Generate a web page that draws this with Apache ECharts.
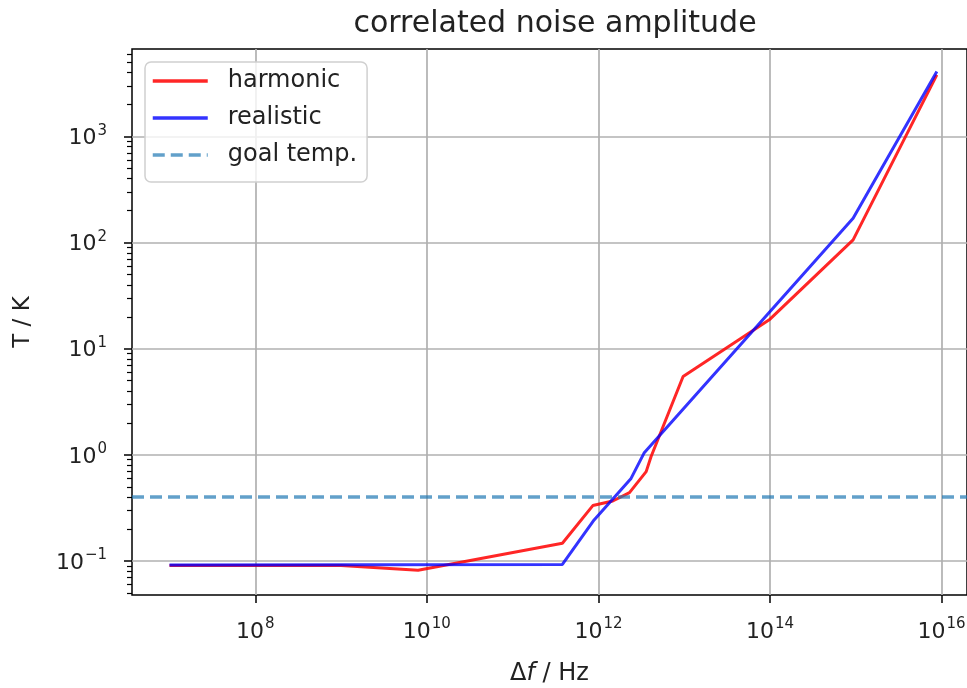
<!DOCTYPE html>
<html>
<head>
<meta charset="utf-8">
<script src="https://cdn.jsdelivr.net/npm/echarts@6/dist/echarts.min.js"></script>
<style>
  html, body { margin: 0; padding: 0; background: #fff; }
  #main { width: 967px; height: 688px; }
</style>
</head>
<body>
<div id="main"></div>
<script>
// frequency spacing (Hz) and temperature (K)
var harmonicF = [1e7, 1e9, 7.9e9, 3.8e11, 8.6e11, 1.47e12, 2.3e12, 3.6e12, 4.1e12, 9.7e12, 1e14, 9.3e14, 8.8e15]
var harmonicT = [0.091, 0.091, 0.082, 0.147, 0.333, 0.368, 0.441, 0.696, 0.96, 5.47, 19, 106, 3800]
var realisticF = [1e7, 3.8e11, 8.9e11, 2.4e12, 3.4e12, 9.3e14, 8.8e15]
var realisticT = [0.092, 0.093, 0.244, 0.60, 1.04, 170, 4100]
var goalT = 0.4

var xTicks = [1e8, 1e10, 1e12, 1e14, 1e16]
var yTicks = [0.1, 1, 10, 100, 1000]
var yMinorTicks = []
for (var e = -2; e <= 3; e++) {
  for (var m = 2; m <= 9; m++) yMinorTicks.push(m * Math.pow(10, e))
}

var FONT = 'DejaVu Sans'
var xMin = Math.pow(10, 6.563)
var xMax = Math.pow(10, 16.296)
var yMin = Math.pow(10, -1.32)
var yMax = Math.pow(10, 3.824)

function pairs (xs, ys) {
  return xs.map(function (x, i) { return [x, ys[i]] })
}

function powLabel (v) {
  var exp = Math.round(Math.log10(v))
  var s = exp < 0 ? '\u2212' + Math.abs(exp) : String(exp)
  return '{b|10}{s|' + s + '}'
}

var labelRich = {
  b: { fontSize: 22, fontFamily: FONT, color: '#222', verticalAlign: 'bottom' },
  s: { fontSize: 15, fontFamily: FONT, color: '#222', verticalAlign: 'bottom', padding: [0, 0, 11, 1] }
}

var chart = echarts.init(document.getElementById('main'))
chart.setOption({
  animation: false,
  title: {
    text: 'correlated noise amplitude',
    left: 550,
    top: 4,
    textAlign: 'center',
    textStyle: { fontFamily: FONT, fontSize: 30, fontWeight: 'normal', color: '#222' }
  },
  legend: {
    orient: 'vertical',
    left: 145,
    top: 62,
    data: ['harmonic', 'realistic', 'goal temp.'],
    itemWidth: 55,
    itemHeight: 14,
    itemGap: 9,
    padding: [5, 10, 13, 6],
    borderColor: '#d0d0d0',
    borderWidth: 1.5,
    borderRadius: 6,
    backgroundColor: 'rgba(255,255,255,0.8)',
    itemStyle: { opacity: 0 },
    lineStyle: { width: 3.5 },
    textStyle: { fontFamily: FONT, fontSize: 24, color: '#222', lineHeight: 28, padding: [0, 0, 0, 15] }
  },
  grid: {
    left: 132, right: 0, top: 49, bottom: 93,
    outerBoundsMode: 'none',
    containLabel: false,
    show: true, borderColor: '#000', borderWidth: 1.5
  },
  xAxis: {
    type: 'log',
    logBase: 10,
    min: xMin,
    max: xMax,
    name: '{n|\u0394}{i|f}{n| / Hz}',
    nameLocation: 'middle',
    nameGap: 67,
    nameTextStyle: {
      rich: {
        n: { fontFamily: FONT, fontSize: 24, color: '#222' },
        i: { fontFamily: FONT, fontSize: 24, color: '#222', fontStyle: 'italic' }
      }
    },
    axisLine: { show: false },
    axisTick: { show: true, length: 8, customValues: xTicks, lineStyle: { color: '#000', width: 1.5 } },
    axisLabel: { customValues: xTicks, margin: 22, formatter: powLabel, rich: labelRich },
    splitLine: { show: true, lineStyle: { color: '#b0b0b0', width: 1.7 } }
  },
  yAxis: [{
    type: 'log',
    logBase: 10,
    min: yMin,
    max: yMax,
    name: 'T / K',
    nameLocation: 'middle',
    nameRotate: 90,
    nameGap: 97,
    nameTextStyle: { fontFamily: FONT, fontSize: 23, color: '#222' },
    axisLine: { show: false },
    axisTick: { show: true, length: 8, customValues: yTicks, lineStyle: { color: '#000', width: 1.5 } },
    axisLabel: { customValues: yTicks, margin: 25, formatter: powLabel, rich: labelRich },
    splitLine: { show: true, lineStyle: { color: '#b0b0b0', width: 1.7 } }
  }, {
    // minor ticks only
    type: 'log',
    logBase: 10,
    min: yMin,
    max: yMax,
    position: 'left',
    axisLine: { show: false },
    axisTick: { show: true, length: 5, customValues: yMinorTicks, lineStyle: { color: '#000', width: 1.2 } },
    axisLabel: { show: false },
    splitLine: { show: false }
  }],
  series: [
    {
      name: 'goal temp.',
      type: 'line',
      data: [],
      symbol: 'none',
      color: 'rgba(31,119,180,0.7)',
      lineStyle: { width: 3.5, type: [12, 6], color: 'rgba(31,119,180,0.7)' },
      markLine: {
        silent: true,
        symbol: 'none',
        label: { show: false },
        lineStyle: { width: 3.5, type: [12, 6], color: 'rgba(31,119,180,0.7)' },
        data: [{ yAxis: goalT }]
      },
      z: 1
    },
    {
      name: 'harmonic',
      type: 'line',
      data: pairs(harmonicF, harmonicT),
      symbol: 'none',
      color: 'rgba(255,0,0,0.85)',
      lineStyle: { width: 3, color: 'rgba(255,0,0,0.85)' },
      z: 2
    },
    {
      name: 'realistic',
      type: 'line',
      data: pairs(realisticF, realisticT),
      symbol: 'none',
      color: 'rgba(0,0,255,0.8)',
      lineStyle: { width: 3, color: 'rgba(0,0,255,0.8)' },
      z: 3
    }
  ]
})
</script>
</body>
</html>
